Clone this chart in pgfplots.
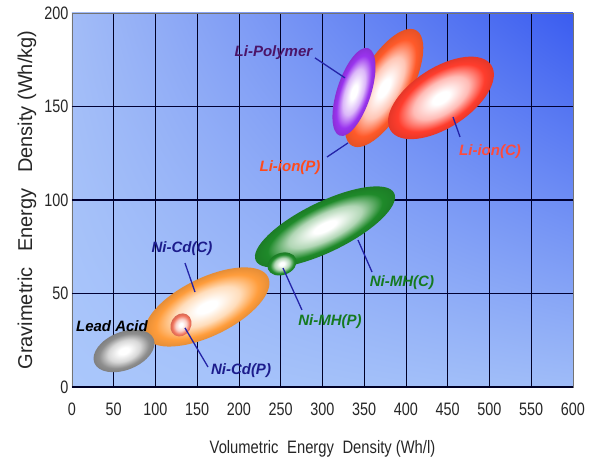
\documentclass[border=0pt]{standalone}
\usepackage{fontspec}
\setmainfont{Liberation Sans}
\newfontfamily\ticksf{Liberation Sans}[FakeStretch=0.8]
\newfontfamily\labsf{Liberation Sans}[FakeStretch=0.82]
\usepackage{pgfplots}
\pgfplotsset{compat=1.18}
\usetikzlibrary{shadings}

\definecolor{bgLL}{HTML}{AAC7FB}
\definecolor{bgLR}{HTML}{9FBCF8}
\definecolor{bgUL}{HTML}{A2BCF7}
\definecolor{bgUR}{HTML}{3A5CF0}

\definecolor{cPoly}{HTML}{9A34EE}
\definecolor{cIonP}{HTML}{FF5A2A}
\definecolor{cIonC}{HTML}{FF3D2D}
\definecolor{cMH}{HTML}{1F8A2A}
\definecolor{cCdC}{HTML}{FF9D3C}
\definecolor{cCdP}{HTML}{F0745C}
\definecolor{cLead}{HTML}{8E8E8E}

\definecolor{tPoly}{HTML}{4B1468}
\definecolor{tIonP}{HTML}{FF4A1A}
\definecolor{tIonC}{HTML}{FF4A3A}
\definecolor{tNavy}{HTML}{1C1C8C}
\definecolor{tGreen}{HTML}{157A1F}
\definecolor{leader}{HTML}{2424A8}

\colorlet{glowcol}{orange}
\pgfdeclareradialshading[glowcol]{glow}{\pgfpoint{0bp}{0bp}}{%
  color(0bp)=(white); color(4bp)=(white); color(13bp)=(glowcol!35!white);
  color(20.5bp)=(glowcol); color(25bp)=(glowcol!90!black); color(50bp)=(glowcol!90!black)}

\pgfdeclareplotmark{glowell}{%
  \pgflowlevelsynccm
  \pgfpathcircle{\pgfpointorigin}{\pgfplotmarksize}%
  \pgfshadepath{glow}{0}%
  \pgfusepath{}%
}
\tikzset{glow/.code={\colorlet{glowcol}{#1}}}

\pgfplotsset{
  ell/.style n args={4}{only marks, mark=glowell, mark size=10bp,
    mark options={glow=#1, rotate=#2, xscale=#3, yscale=#4}},
  lead/.style={draw=leader, line width=1.3bp, no marks},
}
\newcommand{\lab}{\fontsize{15bp}{17bp}\selectfont\bfseries\itshape}

\begin{document}
\begin{tikzpicture}
\begin{axis}[
  scale only axis, width=501bp, height=374bp,
  xmin=0, xmax=600, ymin=0, ymax=200,
  clip marker paths=true,
  xtick={0,50,...,600},
  ytick={0,200},
  extra y ticks={50,100,150},
  extra y tick style={grid=major, major grid style={draw=black!80!blue, line width=1.8bp}},
  xmajorgrids,
  major x grid style={draw=black!85!blue, line width=0.9bp},
  major tick length=0pt,
  axis line style={draw=black!55, line width=0.8bp},
  /pgf/number format/assume math mode=true,
  ticklabel style={font=\ticksf\fontsize{18bp}{20bp}\selectfont, text=black!85},
  xticklabel style={yshift=-12bp},
  axis background/.style={shade, shading=bilinear interpolation,
    lower left=bgLL, lower right=bgLR, upper left=bgUL, upper right=bgUR},
  xlabel={Volumetric\hspace{0.25em} Energy\hspace{0.25em} Density (Wh/l)},
  ylabel={Gravimetric\hspace{0.5em} Energy\hspace{0.5em} Density (Wh/kg)},
  xlabel style={at={([yshift=-62bp]axis description cs:0.5,0)}, anchor=center,
    font=\labsf\fontsize{18bp}{20bp}\selectfont, text=black!85},
  ylabel style={at={([xshift=-45bp]axis description cs:0,0.5)}, anchor=center,
    font=\fontsize{20bp}{22bp}\selectfont, text=black!85},
]
% ellipses: centre (x,y); colour, angle, semi-axes/10bp
\addplot[ell={cIonP}{61}{6.6}{2.6}] coordinates {(373.7,159.9)};
\addplot[ell={cPoly}{72}{4.6}{1.7}] coordinates {(337.7,157.8)};
\addplot[ell={cIonC}{33}{6.0}{3.0}] coordinates {(441.9,154.6)};
\addplot[ell={cCdC}{26}{6.8}{2.9}] coordinates {(161.7,42.8)};
\addplot[ell={cCdP}{60}{1.2}{1.0}] coordinates {(130.5,33.2)};
\addplot[ell={cLead}{22}{3.2}{1.9}] coordinates {(62.3,19.3)};
\addplot[ell={cMH}{26}{7.7}{2.5}] coordinates {(303.0,85.6)};
\addplot[ell={cMH}{20}{1.5}{1.1}] coordinates {(251.5,65.8)};
% leader lines
\addplot[lead] coordinates {(291.0,176.0) (326.9,165.3)};
\addplot[lead] coordinates {(305.4,123.0) (330.5,130.5)};
\addplot[lead] coordinates {(456.3,144.4) (464.7,133.7)};
\addplot[lead] coordinates {(135.3,66.3) (147.3,50.8)};
\addplot[lead] coordinates {(135.3,31.6) (162.9,10.7)};
\addplot[lead] coordinates {(342.5,78.6) (359.3,61.5)};
\addplot[lead] coordinates {(252.7,63.6) (275.4,41.2)};
% labels
\node[font=\lab, text=tPoly] at (axis cs:241.3,178.6) {Li-Polymer};
\node[font=\lab, text=tIonP] at (axis cs:261.1,117.1) {Li-ion(P)};
\node[font=\lab, text=tIonC] at (axis cs:500.6,125.7) {Li-ion(C)};
\node[font=\lab, text=tNavy] at (axis cs:131.7,73.8) {Ni-Cd(C)};
\node[font=\lab, text=tNavy] at (axis cs:202.4,8.6) {Ni-Cd(P)};
\node[font=\lab, text=black] at (axis cs:47.9,32.6) {Lead Acid};
\node[font=\lab, text=tGreen] at (axis cs:395.2,55.6) {Ni-MH(C)};
\node[font=\lab, text=tGreen] at (axis cs:309.0,34.8) {Ni-MH(P)};
\draw[draw=black!85!blue, line width=2.2bp] (rel axis cs:0,0) -- (rel axis cs:1,0);
\end{axis}
\pgfresetboundingbox
\path[use as bounding box] (-72bp,-78bp) rectangle (523bp,387bp);
\end{tikzpicture}
\end{document}
